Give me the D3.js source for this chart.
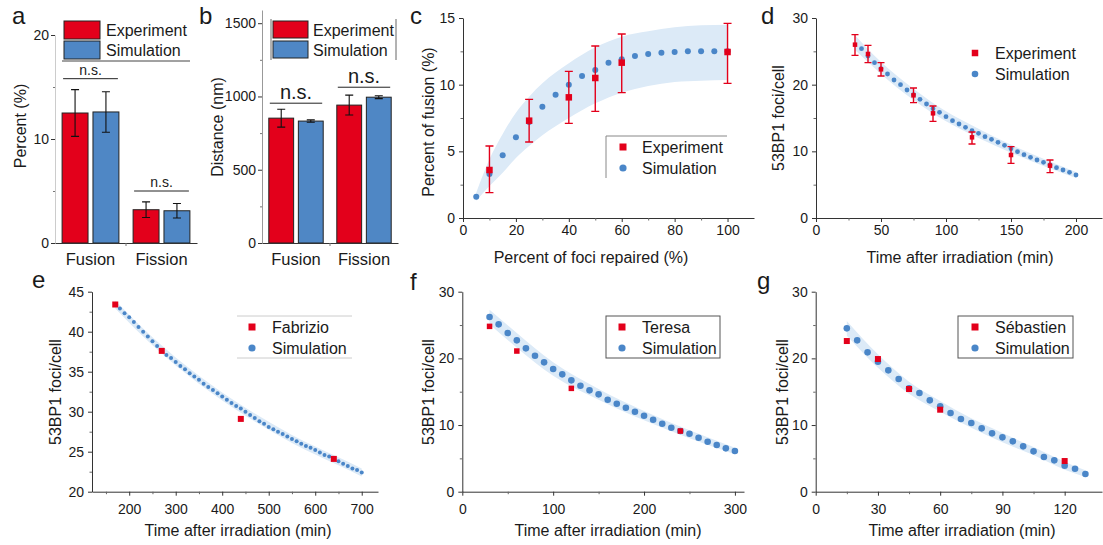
<!DOCTYPE html>
<html>
<head>
<meta charset="utf-8">
<script src="https://cdn.jsdelivr.net/npm/d3@7"></script>
<style>
  body { margin: 0; background: #fff; }
</style>
</head>
<body>
<svg id="fig" width="1103" height="545"></svg>
<script>
// ==========================================
// DATA
// ==========================================

// a / b: bar charts
const abCats = ["Fusion", "Fission"];
const abSeries = ["Experiment", "Simulation"];
const aExpMean = [12.5, 3.2];
const aExpErr = [2.25, 0.75];
const aSimMean = [12.6, 3.1];
const aSimErr = [1.95, 0.7];
const aSigY = [15.8, 5.0];

const bExpMean = [852, 941];
const bExpErr = [61, 68];
const bSimMean = [832, 995];
const bSimErr = [8, 10];
const bSigY = [954, 1063];

// c: percent of fusion vs percent of foci repaired
const cExpX = [10, 25, 40, 50, 60, 100];
const cExpY = [3.6, 7.3, 9.05, 10.5, 11.65, 12.45];
const cExpLo = [1.9, 5.7, 7.1, 8.0, 9.4, 10.1];
const cExpHi = [5.4, 8.9, 11.0, 12.9, 13.8, 14.6];
const cSimX = [5, 10, 15, 20, 25, 30, 35, 40, 45, 50, 55, 60, 65, 70, 75, 80, 85, 90, 95, 100];
const cSimY = [1.6, 3.3, 4.7, 6.05, 7.2, 8.35, 9.25, 10.0, 10.65, 11.1, 11.65, 11.9, 12.15, 12.3, 12.4, 12.45, 12.5, 12.5, 12.5, 12.5];
const cBandX = [5, 10, 15, 20, 25, 30, 40, 50, 60, 70, 80, 90, 100];
const cBandHi = [1.9, 4.4, 6.3, 7.9, 9.1, 10.1, 11.6, 12.8, 13.6, 14.0, 14.3, 14.45, 14.5];
const cBandLo = [1.3, 2.4, 3.4, 4.5, 5.4, 6.2, 7.5, 8.6, 9.4, 9.9, 10.2, 10.3, 10.35];

// d: 53BP1 foci vs time
const dExpX = [30, 40, 50, 75, 90, 120, 150, 180];
const dExpY = [26.0, 24.6, 22.3, 18.4, 15.7, 12.1, 9.45, 7.85];
const dExpLo = [24.4, 23.3, 21.3, 17.3, 14.5, 11.1, 8.2, 6.8];
const dExpHi = [27.5, 25.9, 23.3, 19.5, 16.8, 12.9, 10.7, 8.7];
const dSimX = [35, 40, 45, 50, 55, 60, 65, 70, 75, 80, 85, 90, 95, 100, 105, 110, 115, 120, 125, 130,
               135, 140, 145, 150, 155, 160, 165, 170, 175, 180, 185, 190, 195, 200];
const dSimY = [25.4, 24.3, 23.3, 22.4, 21.6, 20.7, 20.0, 19.2, 18.5, 17.8, 17.1, 16.4, 15.85, 15.2, 14.6, 14.1, 13.6, 13.1, 12.7, 12.2,
               11.8, 11.35, 10.9, 10.4, 9.95, 9.5, 9.1, 8.7, 8.35, 7.95, 7.55, 7.2, 6.85, 6.45];
const dBandX = [30, 40, 50, 75, 100, 125, 150, 175, 200];
const dBandHi = [27.4, 25.3, 23.4, 19.4, 16.0, 13.4, 11.0, 8.9, 6.9];
const dBandLo = [25.2, 23.4, 21.6, 17.7, 14.5, 12.0, 9.8, 7.8, 6.0];

// e: Fabrizio
const eExpX = [170, 270, 440, 640];
const eExpY = [43.4, 37.6, 29.1, 24.1];
const eSimX = [180, 190, 200, 210, 220, 230, 240, 250, 260, 270, 280, 290, 300, 310, 320, 330, 340, 350, 360,
               370, 380, 390, 400, 410, 420, 430, 440, 450, 460, 470, 480, 490, 500, 510, 520, 530, 540, 550,
               560, 570, 580, 590, 600, 610, 620, 630, 640, 650, 660, 670, 680, 690, 700];
const eSimY = [42.9, 42.3, 41.8, 41.2, 40.6, 40.0, 39.4, 38.8, 38.2, 37.6, 37.1, 36.7, 36.2, 35.7, 35.3, 34.8, 34.4, 34.0, 33.5,
               33.1, 32.7, 32.3, 31.9, 31.5, 31.1, 30.7, 30.4, 30.0, 29.6, 29.2, 28.8, 28.5, 28.1, 27.8, 27.5, 27.2, 26.9, 26.6,
               26.3, 26.0, 25.7, 25.5, 25.2, 24.9, 24.6, 24.4, 24.1, 23.8, 23.5, 23.2, 22.9, 22.7, 22.4];
const eBandX = [170, 250, 350, 450, 550, 650, 700];
const eBandHi = [43.9, 39.3, 34.5, 30.5, 27.1, 24.3, 22.9];
const eBandLo = [42.9, 38.3, 33.5, 29.5, 26.1, 23.3, 21.9];

// f: Teresa
const fExpX = [30, 60, 120, 240];
const fExpY = [24.8, 21.1, 15.5, 9.1];
const fSimX = [30, 40, 50, 60, 70, 80, 90, 100, 110, 120, 130, 140, 150, 160, 170, 180, 190, 200,
               210, 220, 230, 240, 250, 260, 270, 280, 290, 300];
const fSimY = [26.2, 25.1, 23.8, 22.7, 21.5, 20.4, 19.4, 18.4, 17.6, 16.7, 15.9, 15.2, 14.6, 13.8, 13.2, 12.6, 12.0, 11.4,
               10.8, 10.2, 9.6, 9.1, 8.7, 8.1, 7.5, 7.0, 6.5, 6.1];
const fBandX = [30, 60, 100, 150, 200, 250, 300];
const fBandHi = [27.3, 23.8, 19.4, 15.4, 12.1, 9.2, 6.6];
const fBandLo = [25.1, 21.6, 17.4, 13.8, 10.7, 8.0, 5.6];

// g: Sébastien
const gExpX = [15, 30, 45, 60, 120];
const gExpY = [22.6, 19.9, 15.4, 12.3, 4.6];
const gSimX = [15, 20, 25, 30, 35, 40, 45, 50, 55, 60, 65, 70, 75, 80, 85, 90, 95, 100, 105, 110, 115, 120, 125, 130];
const gSimY = [24.5, 22.7, 20.9, 19.5, 18.2, 16.9, 15.5, 14.8, 13.7, 12.8, 11.8, 10.9, 10.3, 9.5, 8.75, 8.15, 7.55, 6.8,
               6.05, 5.2, 4.7, 3.9, 3.45, 2.65];
const gBandX = [15, 30, 45, 60, 75, 90, 105, 120, 130];
const gBandHi = [25.6, 20.6, 16.5, 13.6, 11.0, 8.8, 6.7, 4.5, 3.2];
const gBandLo = [23.4, 18.6, 14.7, 12.0, 9.6, 7.4, 5.5, 3.3, 2.2];

// ==========================================
// STYLE
// ==========================================
const FONT = '"Liberation Sans", Arial, Helvetica, sans-serif';
const RED = "#e3001b";
const BLUE = "#4f87c5";
const SIMBLUE = "#4a86c8";
const BAND = "#dceaf7";
const AXIS = "#333";
const TXT = "#1a1a1a";

const svg = d3.select("#fig");

function styleAxis(g, fs) {
  g.attr("font-family", FONT).attr("font-size", fs);
  g.selectAll("path, line").attr("stroke", AXIS);
  g.selectAll("text").attr("fill", TXT);
}

function letter(t, x, y) {
  svg.append("text").attr("x", x).attr("y", y).text(t)
    .attr("font-family", FONT).attr("font-size", 24).attr("fill", TXT);
}

function yTitle(t, x, y) {
  svg.append("text").text(t)
    .attr("transform", `translate(${x},${y}) rotate(-90)`)
    .attr("text-anchor", "middle").attr("dominant-baseline", "central")
    .attr("font-family", FONT).attr("font-size", 16).attr("fill", TXT);
}

function xTitle(t, x, y) {
  svg.append("text").text(t).attr("x", x).attr("y", y)
    .attr("text-anchor", "middle")
    .attr("font-family", FONT).attr("font-size", 16).attr("fill", TXT);
}

function legendText(t, x, y) {
  svg.append("text").text(t).attr("x", x).attr("y", y)
    .attr("font-family", FONT).attr("font-size", 16).attr("fill", TXT);
}

// ==========================================
// BAR PANELS (a, b)
// ==========================================
function barPanel(cfg) {
  const x = d3.scaleBand().domain(abCats).range(cfg.xRange).paddingInner(0.2).paddingOuter(0.1);
  const xs = d3.scaleBand().domain(abSeries).range([0, x.bandwidth()]).paddingInner(0.16);
  const y = d3.scaleLinear().domain(cfg.yDom).range(cfg.yRange);
  const g = svg.append("g");

  const rows = [];
  abCats.forEach((c, i) => {
    rows.push({cat: c, s: "Experiment", v: cfg.exp[i], e: cfg.expErr[i], fill: RED});
    rows.push({cat: c, s: "Simulation", v: cfg.sim[i], e: cfg.simErr[i], fill: BLUE});
  });

  // y axis
  const ya = g.append("g").attr("transform", `translate(${cfg.xRange[0]},0)`)
    .call(d3.axisLeft(y).tickValues(cfg.yMajor).tickFormat(d3.format("d"))
      .tickSize(4).tickPadding(cfg.yPad).tickSizeOuter(0));
  styleAxis(ya, 14);
  ya.select(".domain").attr("stroke", cfg.yLine);
  const ym = g.append("g").attr("transform", `translate(${cfg.xRange[0]},0)`)
    .call(d3.axisLeft(y).tickValues(cfg.yMinor).tickSize(2).tickFormat(""));
  ym.select(".domain").remove();
  ym.selectAll("line").attr("stroke", "#777");

  // bars
  g.selectAll("rect.bar").data(rows).join("rect")
    .attr("x", d => x(d.cat) + xs(d.s))
    .attr("width", xs.bandwidth())
    .attr("y", d => y(d.v))
    .attr("height", d => y(0) - y(d.v))
    .attr("fill", d => d.fill)
    .attr("stroke", "#222").attr("stroke-width", 1);

  // error bars
  g.selectAll("path.err").data(rows).join("path")
    .attr("d", d => {
      const cx = x(d.cat) + xs(d.s) + xs.bandwidth() / 2, h = 4;
      return `M${cx},${y(d.v - d.e)}V${y(d.v + d.e)}M${cx - h},${y(d.v - d.e)}h${2 * h}M${cx - h},${y(d.v + d.e)}h${2 * h}`;
    })
    .attr("stroke", "#111").attr("fill", "none").attr("stroke-width", 1.1);

  // x axis
  const xa = g.append("g").attr("transform", `translate(0,${cfg.yRange[0]})`)
    .call(d3.axisBottom(x).tickSize(0).tickPadding(10));
  styleAxis(xa, 16.5);
  const mid = (x(abCats[0]) + x.bandwidth() + x(abCats[1])) / 2;
  g.append("line").attr("x1", mid).attr("x2", mid)
    .attr("y1", cfg.yRange[0]).attr("y2", cfg.yRange[0] + 3).attr("stroke", "#777");

  // n.s. brackets
  abCats.forEach((c, i) => {
    const x0 = x(c) + 1, x1 = x(c) + x.bandwidth() - 1;
    g.append("line").attr("x1", x0).attr("x2", x1)
      .attr("y1", y(cfg.sig[i])).attr("y2", y(cfg.sig[i])).attr("stroke", "#222");
    g.append("text").text("n.s.").attr("x", (x0 + x1) / 2).attr("y", y(cfg.sig[i]) - 4)
      .attr("text-anchor", "middle").attr("font-family", FONT)
      .attr("font-size", cfg.sigFont).attr("fill", TXT);
  });

  return {x, y};
}

barPanel({
  xRange: [55, 197], yDom: [0, 20], yRange: [243, 35],
  yMajor: [0, 10, 20], yMinor: [5, 15], yPad: 2, yLine: "#ccc",
  exp: aExpMean, expErr: aExpErr, sim: aSimMean, simErr: aSimErr,
  sig: aSigY, sigFont: 14
});

barPanel({
  xRange: [262, 398], yDom: [0, 1590], yRange: [243, 10],
  yMajor: [0, 500, 1000, 1500], yMinor: [250, 750, 1250], yPad: 2, yLine: "#999",
  exp: bExpMean, expErr: bExpErr, sim: bSimMean, simErr: bSimErr,
  sig: bSigY, sigFont: 20
});

// a legend
svg.append("rect").attr("x", 64).attr("y", 21).attr("width", 36).attr("height", 18)
  .attr("fill", RED).attr("stroke", "#222");
svg.append("rect").attr("x", 64).attr("y", 41).attr("width", 36).attr("height", 18)
  .attr("fill", BLUE).attr("stroke", "#222");
legendText(abSeries[0], 106, 36);
legendText(abSeries[1], 106, 56);
svg.append("line").attr("x1", 62).attr("x2", 190).attr("y1", 61).attr("y2", 61).attr("stroke", "#444");

// b legend
svg.append("rect").attr("x", 273).attr("y", 21).attr("width", 35).attr("height", 17)
  .attr("fill", RED).attr("stroke", "#222");
svg.append("rect").attr("x", 273).attr("y", 41).attr("width", 35).attr("height", 17)
  .attr("fill", BLUE).attr("stroke", "#222");
legendText(abSeries[0], 313, 36);
legendText(abSeries[1], 313, 56);
svg.append("line").attr("x1", 271).attr("x2", 271).attr("y1", 19).attr("y2", 60).attr("stroke", "#666");
svg.append("line").attr("x1", 396).attr("x2", 396).attr("y1", 19).attr("y2", 60).attr("stroke", "#666");

yTitle("Percent (%)", 20, 126);
yTitle("Distance (nm)", 217, 127);
letter("a", 12, 24);
letter("b", 199, 24);

// ==========================================
// SCATTER PANELS (c - g)
// ==========================================
function zipXY(xs, ys) { return xs.map((v, i) => ({x: v, y: ys[i]})); }

function scatterPanel(cfg) {
  const x = d3.scaleLinear().domain(cfg.xDom).range(cfg.xRange);
  const y = d3.scaleLinear().domain(cfg.yDom).range(cfg.yRange);
  const g = svg.append("g");

  // confidence band
  const band = cfg.bandX.map((v, i) => ({x: v, lo: cfg.bandLo[i], hi: cfg.bandHi[i]}));
  const area = d3.area().curve(d3.curveMonotoneX)
    .x(d => x(d.x)).y0(d => y(d.lo)).y1(d => y(d.hi));
  g.append("path").datum(band).attr("d", area).attr("fill", BAND);

  // axes
  const xa = g.append("g").attr("transform", `translate(0,${cfg.yRange[0]})`)
    .call(d3.axisBottom(x).tickValues(cfg.xMajor).tickFormat(d3.format("d"))
      .tickSize(4).tickPadding(cfg.xPad).tickSizeOuter(0));
  styleAxis(xa, 14);
  const xm = g.append("g").attr("transform", `translate(0,${cfg.yRange[0]})`)
    .call(d3.axisBottom(x).tickValues(cfg.xMinor).tickSize(2.5).tickFormat(""));
  xm.select(".domain").remove();
  xm.selectAll("line").attr("stroke", "#666");

  const ya = g.append("g").attr("transform", `translate(${cfg.xRange[0]},0)`)
    .call(d3.axisLeft(y).tickValues(cfg.yMajor).tickFormat(d3.format("d"))
      .tickSize(4).tickPadding(4).tickSizeOuter(0));
  styleAxis(ya, 14);
  const ym = g.append("g").attr("transform", `translate(${cfg.xRange[0]},0)`)
    .call(d3.axisLeft(y).tickValues(cfg.yMinor).tickSize(2.5).tickFormat(""));
  ym.select(".domain").remove();
  ym.selectAll("line").attr("stroke", "#666");

  // simulation points
  g.selectAll("circle.sim").data(zipXY(cfg.simX, cfg.simY)).join("circle")
    .attr("cx", d => x(d.x)).attr("cy", d => y(d.y)).attr("r", cfg.simR)
    .attr("fill", SIMBLUE);

  // experiment error bars
  if (cfg.expLo) {
    const eb = cfg.expX.map((v, i) => ({x: v, lo: cfg.expLo[i], hi: cfg.expHi[i]}));
    const h = cfg.cap / 2;
    g.selectAll("path.err").data(eb).join("path")
      .attr("d", d => `M${x(d.x)},${y(d.lo)}V${y(d.hi)}M${x(d.x) - h},${y(d.lo)}h${2 * h}M${x(d.x) - h},${y(d.hi)}h${2 * h}`)
      .attr("stroke", RED).attr("fill", "none").attr("stroke-width", 1.4);
  }

  // experiment points
  const s = cfg.expSize;
  g.selectAll("rect.exp").data(zipXY(cfg.expX, cfg.expY)).join("rect")
    .attr("x", d => x(d.x) - s / 2).attr("y", d => y(d.y) - s / 2)
    .attr("width", s).attr("height", s).attr("fill", RED);

  // legend
  const L = cfg.legend;
  if (L.frame) {
    const f = L.frame;
    if (f.type === "box") {
      g.append("rect").attr("x", f.x0).attr("y", f.y0).attr("width", f.x1 - f.x0).attr("height", f.y1 - f.y0)
        .attr("fill", "#fff").attr("stroke", "#555").attr("stroke-width", 1);
    } else if (f.type === "topleft") {
      g.append("path").attr("d", `M${f.x0},${f.y1}V${f.y0}H${f.x1}`)
        .attr("fill", "none").attr("stroke", "#888");
    } else if (f.type === "lines") {
      g.append("path").attr("d", `M${f.x0},${f.y0}H${f.x1}M${f.x0},${f.y1}H${f.x1}`)
        .attr("fill", "none").attr("stroke", "#ccc");
    }
  }
  g.append("rect").attr("x", L.mx - L.ms / 2).attr("y", L.y1 - L.ms / 2)
    .attr("width", L.ms).attr("height", L.ms).attr("fill", RED);
  g.append("circle").attr("cx", L.mx).attr("cy", L.y2).attr("r", L.mr).attr("fill", SIMBLUE);
  legendText(L.labels[0], L.tx, L.y1 + 6);
  legendText(L.labels[1], L.tx, L.y2 + 6);

  xTitle(cfg.xTitle[0], cfg.xTitle[1], cfg.xTitle[2]);
  yTitle(cfg.yTitle[0], cfg.yTitle[1], cfg.yTitle[2]);
  letter(cfg.letter[0], cfg.letter[1], cfg.letter[2]);
}

// c
scatterPanel({
  xDom: [0, 110], xRange: [463, 754], yDom: [0, 15], yRange: [218, 18],
  xMajor: [0, 20, 40, 60, 80, 100], xMinor: [10, 30, 50, 70, 90],
  yMajor: [0, 5, 10, 15], yMinor: [2.5, 7.5, 12.5], xPad: 3,
  bandX: cBandX, bandLo: cBandLo, bandHi: cBandHi,
  simX: cSimX, simY: cSimY, simR: 3,
  expX: cExpX, expY: cExpY, expLo: cExpLo, expHi: cExpHi, expSize: 6.5, cap: 8,
  legend: {mx: 623, ms: 7, mr: 3.6, tx: 642, y1: 147, y2: 168,
           labels: ["Experiment", "Simulation"],
           frame: {type: "topleft", x0: 606, x1: 727, y0: 136, y1: 178}},
  xTitle: ["Percent of foci repaired (%)", 591, 263],
  yTitle: ["Percent of fusion (%)", 428, 122],
  letter: ["c", 410, 24]
});

// d
scatterPanel({
  xDom: [0, 220], xRange: [816, 1102], yDom: [0, 30], yRange: [218, 18],
  xMajor: [0, 50, 100, 150, 200], xMinor: [25, 75, 125, 175],
  yMajor: [0, 10, 20, 30], yMinor: [5, 15, 25], xPad: 3,
  bandX: dBandX, bandLo: dBandLo, bandHi: dBandHi,
  simX: dSimX, simY: dSimY, simR: 2.4,
  expX: dExpX, expY: dExpY, expLo: dExpLo, expHi: dExpHi, expSize: 4.5, cap: 7,
  legend: {mx: 975, ms: 6.5, mr: 3.3, tx: 995, y1: 53, y2: 74,
           labels: ["Experiment", "Simulation"], frame: null},
  xTitle: ["Time after irradiation (min)", 960, 263],
  yTitle: ["53BP1 foci/cell", 778, 118],
  letter: ["d", 761, 24]
});

// e
scatterPanel({
  xDom: [120, 735], xRange: [92, 378], yDom: [20, 45], yRange: [491.7, 291.7],
  xMajor: [200, 300, 400, 500, 600, 700], xMinor: [150, 250, 350, 450, 550, 650],
  yMajor: [20, 25, 30, 35, 40, 45], yMinor: [22.5, 27.5, 32.5, 37.5, 42.5], xPad: 8,
  bandX: eBandX, bandLo: eBandLo, bandHi: eBandHi,
  simX: eSimX, simY: eSimY, simR: 2,
  expX: eExpX, expY: eExpY, expSize: 6,
  legend: {mx: 252, ms: 7, mr: 3.6, tx: 272, y1: 327, y2: 348,
           labels: ["Fabrizio", "Simulation"],
           frame: {type: "lines", x0: 237, x1: 352, y0: 316, y1: 358}},
  xTitle: ["Time after irradiation (min)", 238, 536],
  yTitle: ["53BP1 foci/cell", 55, 392],
  letter: ["e", 32, 288]
});

// f
scatterPanel({
  xDom: [0, 310], xRange: [462.3, 744], yDom: [0, 30], yRange: [491.7, 291.7],
  xMajor: [0, 100, 200, 300], xMinor: [50, 150, 250],
  yMajor: [0, 10, 20, 30], yMinor: [5, 15, 25], xPad: 8,
  bandX: fBandX, bandLo: fBandLo, bandHi: fBandHi,
  simX: fSimX, simY: fSimY, simR: 3.3,
  expX: fExpX, expY: fExpY, expSize: 5.5,
  legend: {mx: 622, ms: 7, mr: 3.6, tx: 642, y1: 327, y2: 348,
           labels: ["Teresa", "Simulation"],
           frame: {type: "box", x0: 606, x1: 720, y0: 316, y1: 358}},
  xTitle: ["Time after irradiation (min)", 608, 536],
  yTitle: ["53BP1 foci/cell", 428, 392],
  letter: ["f", 410, 290]
});

// g
scatterPanel({
  xDom: [0, 138], xRange: [815.7, 1102], yDom: [0, 30], yRange: [491.7, 291.7],
  xMajor: [0, 30, 60, 90, 120], xMinor: [15, 45, 75, 105],
  yMajor: [0, 10, 20, 30], yMinor: [5, 15, 25], xPad: 8,
  bandX: gBandX, bandLo: gBandLo, bandHi: gBandHi,
  simX: gSimX, simY: gSimY, simR: 3.3,
  expX: gExpX, expY: gExpY, expSize: 6,
  legend: {mx: 975, ms: 7, mr: 3.6, tx: 995, y1: 327, y2: 348,
           labels: ["Sébastien", "Simulation"],
           frame: {type: "box", x0: 958, x1: 1073, y0: 316, y1: 358}},
  xTitle: ["Time after irradiation (min)", 962, 536],
  yTitle: ["53BP1 foci/cell", 782, 392],
  letter: ["g", 757, 289]
});
</script>
</body>
</html>
